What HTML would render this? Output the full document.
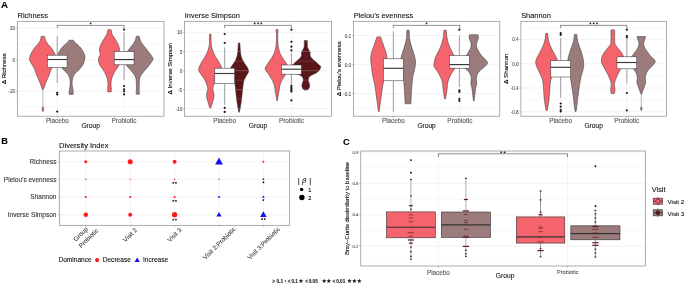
<!DOCTYPE html>
<html><head><meta charset="utf-8"><title>Figure</title>
<style>
html,body{margin:0;padding:0;background:#fff;}
body{width:685px;height:284px;overflow:hidden;font-family:"Liberation Sans", sans-serif;}
svg{display:block;will-change:transform;}
</style></head><body>
<svg width="685" height="284" viewBox="0 0 685 284" font-family='"Liberation Sans", sans-serif'>
<line x1="17.3" y1="44" x2="164" y2="44" stroke="#EBEBEB" stroke-width="0.35"/>
<line x1="17.3" y1="75.5" x2="164" y2="75.5" stroke="#EBEBEB" stroke-width="0.35"/>
<line x1="17.3" y1="107" x2="164" y2="107" stroke="#EBEBEB" stroke-width="0.35"/>
<line x1="17.3" y1="28.2" x2="164" y2="28.2" stroke="#EBEBEB" stroke-width="0.6"/>
<line x1="17.3" y1="59.75" x2="164" y2="59.75" stroke="#EBEBEB" stroke-width="0.6"/>
<line x1="17.3" y1="91.3" x2="164" y2="91.3" stroke="#EBEBEB" stroke-width="0.6"/>
<line x1="57.31" y1="21.3" x2="57.31" y2="116.2" stroke="#EBEBEB" stroke-width="0.6"/>
<line x1="123.99" y1="21.3" x2="123.99" y2="116.2" stroke="#EBEBEB" stroke-width="0.6"/>
<line x1="184.5" y1="23" x2="331.5" y2="23" stroke="#EBEBEB" stroke-width="0.35"/>
<line x1="184.5" y1="42" x2="331.5" y2="42" stroke="#EBEBEB" stroke-width="0.35"/>
<line x1="184.5" y1="61.1" x2="331.5" y2="61.1" stroke="#EBEBEB" stroke-width="0.35"/>
<line x1="184.5" y1="80.2" x2="331.5" y2="80.2" stroke="#EBEBEB" stroke-width="0.35"/>
<line x1="184.5" y1="99.1" x2="331.5" y2="99.1" stroke="#EBEBEB" stroke-width="0.35"/>
<line x1="184.5" y1="32.4" x2="331.5" y2="32.4" stroke="#EBEBEB" stroke-width="0.6"/>
<line x1="184.5" y1="51.5" x2="331.5" y2="51.5" stroke="#EBEBEB" stroke-width="0.6"/>
<line x1="184.5" y1="70.7" x2="331.5" y2="70.7" stroke="#EBEBEB" stroke-width="0.6"/>
<line x1="184.5" y1="89.7" x2="331.5" y2="89.7" stroke="#EBEBEB" stroke-width="0.6"/>
<line x1="184.5" y1="108.5" x2="331.5" y2="108.5" stroke="#EBEBEB" stroke-width="0.6"/>
<line x1="224.59" y1="21.3" x2="224.59" y2="116.2" stroke="#EBEBEB" stroke-width="0.6"/>
<line x1="291.41" y1="21.3" x2="291.41" y2="116.2" stroke="#EBEBEB" stroke-width="0.6"/>
<line x1="353.4" y1="50.1" x2="499.8" y2="50.1" stroke="#EBEBEB" stroke-width="0.35"/>
<line x1="353.4" y1="79" x2="499.8" y2="79" stroke="#EBEBEB" stroke-width="0.35"/>
<line x1="353.4" y1="108" x2="499.8" y2="108" stroke="#EBEBEB" stroke-width="0.35"/>
<line x1="353.4" y1="35.5" x2="499.8" y2="35.5" stroke="#EBEBEB" stroke-width="0.6"/>
<line x1="353.4" y1="64.7" x2="499.8" y2="64.7" stroke="#EBEBEB" stroke-width="0.6"/>
<line x1="353.4" y1="93.5" x2="499.8" y2="93.5" stroke="#EBEBEB" stroke-width="0.6"/>
<line x1="393.33" y1="21.3" x2="393.33" y2="116.2" stroke="#EBEBEB" stroke-width="0.6"/>
<line x1="459.87" y1="21.3" x2="459.87" y2="116.2" stroke="#EBEBEB" stroke-width="0.6"/>
<line x1="520.9" y1="27.3" x2="666.4" y2="27.3" stroke="#EBEBEB" stroke-width="0.35"/>
<line x1="520.9" y1="51.6" x2="666.4" y2="51.6" stroke="#EBEBEB" stroke-width="0.35"/>
<line x1="520.9" y1="75.9" x2="666.4" y2="75.9" stroke="#EBEBEB" stroke-width="0.35"/>
<line x1="520.9" y1="99.9" x2="666.4" y2="99.9" stroke="#EBEBEB" stroke-width="0.35"/>
<line x1="520.9" y1="39.4" x2="666.4" y2="39.4" stroke="#EBEBEB" stroke-width="0.6"/>
<line x1="520.9" y1="63.7" x2="666.4" y2="63.7" stroke="#EBEBEB" stroke-width="0.6"/>
<line x1="520.9" y1="88" x2="666.4" y2="88" stroke="#EBEBEB" stroke-width="0.6"/>
<line x1="520.9" y1="111.7" x2="666.4" y2="111.7" stroke="#EBEBEB" stroke-width="0.6"/>
<line x1="560.58" y1="21.3" x2="560.58" y2="116.2" stroke="#EBEBEB" stroke-width="0.6"/>
<line x1="626.72" y1="21.3" x2="626.72" y2="116.2" stroke="#EBEBEB" stroke-width="0.6"/>
<path d="M44.7 36.4 C44.73 36.75 44.79 37.9 44.9 38.5 C45.01 39.1 45.15 39.5 45.35 40 C45.55 40.5 45.62 40.75 46.1 41.5 C46.58 42.25 47.45 43.57 48.2 44.5 C48.95 45.43 49.78 46.1 50.6 47.1 C51.42 48.1 52.38 49.33 53.1 50.5 C53.82 51.67 54.37 52.8 54.9 54.1 C55.43 55.4 56.17 57.12 56.3 58.3 C56.43 59.48 56.05 60.27 55.7 61.2 C55.35 62.13 54.75 62.97 54.2 63.9 C53.65 64.83 52.92 65.85 52.4 66.8 C51.88 67.75 51.5 68.67 51.1 69.6 C50.7 70.53 50.33 71.47 50 72.4 C49.67 73.33 49.48 74.25 49.1 75.2 C48.72 76.15 48.1 77.17 47.7 78.1 C47.3 79.03 47.08 79.87 46.7 80.8 C46.32 81.73 45.83 82.57 45.4 83.7 C44.97 84.83 44.42 86.72 44.1 87.6 C43.78 88.48 43.67 88.6 43.5 89 C43.33 89.4 43.17 89.83 43.1 90 L42.7 90 C42.63 89.83 42.47 89.4 42.3 89 C42.13 88.6 42.02 88.48 41.7 87.6 C41.38 86.72 40.83 84.83 40.4 83.7 C39.97 82.57 39.48 81.73 39.1 80.8 C38.72 79.87 38.5 79.03 38.1 78.1 C37.7 77.17 37.08 76.15 36.7 75.2 C36.32 74.25 36.13 73.33 35.8 72.4 C35.47 71.47 35.1 70.53 34.7 69.6 C34.3 68.67 33.92 67.75 33.4 66.8 C32.88 65.85 32.15 64.83 31.6 63.9 C31.05 62.97 30.45 62.13 30.1 61.2 C29.75 60.27 29.37 59.48 29.5 58.3 C29.63 57.12 30.37 55.4 30.9 54.1 C31.43 52.8 31.98 51.67 32.7 50.5 C33.42 49.33 34.38 48.1 35.2 47.1 C36.02 46.1 36.85 45.43 37.6 44.5 C38.35 43.57 39.22 42.25 39.7 41.5 C40.17 40.75 40.25 40.5 40.45 40 C40.65 39.5 40.79 39.1 40.9 38.5 C41.01 37.9 41.07 36.75 41.1 36.4 Z" fill="#F5636D" stroke="#3a3a3a" stroke-width="0.55"/>
<path d="M73.3 40.2 C73.55 40.53 74.12 41.48 74.8 42.2 C75.48 42.92 76.3 43.42 77.4 44.5 C78.5 45.58 80.33 47.3 81.4 48.7 C82.47 50.1 83.22 51.58 83.8 52.9 C84.38 54.22 84.83 55.18 84.9 56.6 C84.97 58.02 84.6 59.9 84.2 61.4 C83.8 62.9 83.37 64.2 82.5 65.6 C81.63 67 80.32 68.4 79 69.8 C77.68 71.2 75.65 72.58 74.6 74 C73.55 75.42 73.1 77.05 72.7 78.3 C72.3 79.55 72.3 80.55 72.2 81.5 C72.1 82.45 72.03 83 72.1 84 C72.17 85 72.42 86.25 72.6 87.5 C72.78 88.75 73.08 90.42 73.2 91.5 C73.32 92.58 73.37 93.52 73.3 94 C73.23 94.48 72.88 94.33 72.8 94.4 L69.6 94.4 C69.52 94.33 69.17 94.48 69.1 94 C69.03 93.52 69.08 92.58 69.2 91.5 C69.32 90.42 69.62 88.75 69.8 87.5 C69.98 86.25 70.23 85 70.3 84 C70.37 83 70.3 82.45 70.2 81.5 C70.1 80.55 70.1 79.55 69.7 78.3 C69.3 77.05 68.85 75.42 67.8 74 C66.75 72.58 64.72 71.2 63.4 69.8 C62.08 68.4 60.77 67 59.9 65.6 C59.03 64.2 58.6 62.9 58.2 61.4 C57.8 59.9 57.43 58.02 57.5 56.6 C57.57 55.18 58.02 54.22 58.6 52.9 C59.18 51.58 59.93 50.1 61 48.7 C62.07 47.3 63.9 45.58 65 44.5 C66.1 43.42 66.92 42.92 67.6 42.2 C68.28 41.48 68.85 40.53 69.1 40.2 Z" fill="#9C7B7C" stroke="#3a3a3a" stroke-width="0.55"/>
<path d="M111.1 29.7 C111.3 30.52 111.58 32.97 112.3 34.6 C113.02 36.23 114.43 37.85 115.4 39.5 C116.37 41.15 117.4 42.85 118.1 44.5 C118.8 46.15 119.48 47.77 119.6 49.4 C119.72 51.03 118.63 52.65 118.8 54.3 C118.97 55.95 120.47 57.65 120.6 59.3 C120.73 60.95 120.3 62.57 119.6 64.2 C118.9 65.83 117.42 67.47 116.4 69.1 C115.38 70.73 114.3 72.35 113.5 74 C112.7 75.65 112.02 77.35 111.6 79 C111.18 80.65 111.05 82.27 111 83.9 C110.95 85.53 111.27 87.47 111.3 88.8 C111.33 90.13 111.22 91.38 111.2 91.9 L107.8 91.9 C107.78 91.38 107.67 90.13 107.7 88.8 C107.73 87.47 108.05 85.53 108 83.9 C107.95 82.27 107.82 80.65 107.4 79 C106.98 77.35 106.3 75.65 105.5 74 C104.7 72.35 103.62 70.73 102.6 69.1 C101.58 67.47 100.1 65.83 99.4 64.2 C98.7 62.57 98.27 60.95 98.4 59.3 C98.53 57.65 100.03 55.95 100.2 54.3 C100.37 52.65 99.28 51.03 99.4 49.4 C99.52 47.77 100.2 46.15 100.9 44.5 C101.6 42.85 102.63 41.15 103.6 39.5 C104.57 37.85 105.98 36.23 106.7 34.6 C107.42 32.97 107.7 30.52 107.9 29.7 Z" fill="#F5636D" stroke="#3a3a3a" stroke-width="0.55"/>
<path d="M139.2 36.2 C139.45 37.05 139.92 39.67 140.7 41.3 C141.48 42.93 142.75 44.45 143.9 46 C145.05 47.55 146.4 49.05 147.6 50.6 C148.8 52.15 150.2 53.95 151.1 55.3 C152 56.65 152.95 57.55 153 58.7 C153.05 59.85 152.27 60.83 151.4 62.2 C150.53 63.57 149.07 65.35 147.8 66.9 C146.53 68.45 145.03 69.95 143.8 71.5 C142.57 73.05 141.13 74.65 140.4 76.2 C139.67 77.75 139.6 78.87 139.4 80.8 C139.2 82.73 139.2 85.57 139.2 87.8 C139.2 90.03 139.37 93.13 139.4 94.2 L136.2 94.2 C136.23 93.13 136.4 90.03 136.4 87.8 C136.4 85.57 136.4 82.73 136.2 80.8 C136 78.87 135.93 77.75 135.2 76.2 C134.47 74.65 133.03 73.05 131.8 71.5 C130.57 69.95 129.07 68.45 127.8 66.9 C126.53 65.35 125.07 63.57 124.2 62.2 C123.33 60.83 122.55 59.85 122.6 58.7 C122.65 57.55 123.6 56.65 124.5 55.3 C125.4 53.95 126.8 52.15 128 50.6 C129.2 49.05 130.55 47.55 131.7 46 C132.85 44.45 134.12 42.93 134.9 41.3 C135.68 39.67 136.15 37.05 136.4 36.2 Z" fill="#9C7B7C" stroke="#3a3a3a" stroke-width="0.55"/>
<path d="M210.8 34 C210.86 34.25 211.12 35 211.15 35.5 C211.18 36 211.01 35.98 211 37 C210.99 38.02 211.03 40.12 211.1 41.6 C211.17 43.08 211.2 44.58 211.4 45.9 C211.6 47.22 211.93 48.33 212.3 49.5 C212.67 50.67 213.08 51.73 213.6 52.9 C214.12 54.07 214.73 55.32 215.4 56.5 C216.07 57.68 216.88 58.83 217.6 60 C218.32 61.17 219.08 62.33 219.7 63.5 C220.32 64.67 220.92 65.97 221.3 67 C221.68 68.03 222.07 68.78 222 69.7 C221.93 70.62 221.38 71.62 220.9 72.5 C220.42 73.38 219.7 74.15 219.1 75 C218.5 75.85 217.93 76.6 217.3 77.6 C216.67 78.6 215.88 79.82 215.3 81 C214.72 82.18 214.22 83.5 213.8 84.7 C213.38 85.9 212.87 87.07 212.8 88.2 C212.73 89.33 213.18 90.32 213.4 91.5 C213.62 92.68 214.08 94.05 214.1 95.3 C214.12 96.55 213.77 97.83 213.5 99 C213.23 100.17 212.82 101.22 212.5 102.3 C212.18 103.38 211.92 104.52 211.6 105.5 C211.28 106.48 210.77 107.75 210.6 108.2 L210 108.2 C209.83 107.75 209.32 106.48 209 105.5 C208.68 104.52 208.42 103.38 208.1 102.3 C207.78 101.22 207.37 100.17 207.1 99 C206.83 97.83 206.48 96.55 206.5 95.3 C206.52 94.05 206.98 92.68 207.2 91.5 C207.42 90.32 207.87 89.33 207.8 88.2 C207.73 87.07 207.22 85.9 206.8 84.7 C206.38 83.5 205.88 82.18 205.3 81 C204.72 79.82 203.93 78.6 203.3 77.6 C202.67 76.6 202.1 75.85 201.5 75 C200.9 74.15 200.18 73.38 199.7 72.5 C199.22 71.62 198.67 70.62 198.6 69.7 C198.53 68.78 198.92 68.03 199.3 67 C199.68 65.97 200.28 64.67 200.9 63.5 C201.52 62.33 202.28 61.17 203 60 C203.72 58.83 204.53 57.68 205.2 56.5 C205.87 55.32 206.48 54.07 207 52.9 C207.52 51.73 207.93 50.67 208.3 49.5 C208.67 48.33 209 47.22 209.2 45.9 C209.4 44.58 209.43 43.08 209.5 41.6 C209.57 40.12 209.61 38.02 209.6 37 C209.59 35.98 209.42 36 209.45 35.5 C209.48 35 209.74 34.25 209.8 34 Z" fill="#F5636D" stroke="#3a3a3a" stroke-width="0.55"/>
<path d="M239.9 43 C239.93 43.67 240.03 45.83 240.1 47 C240.17 48.17 240.2 48.85 240.3 50 C240.4 51.15 240.53 52.82 240.7 53.9 C240.87 54.98 241.05 55.62 241.3 56.5 C241.55 57.38 241.8 58.28 242.2 59.2 C242.6 60.12 243.17 61.12 243.7 62 C244.23 62.88 244.78 63.58 245.4 64.5 C246.02 65.42 246.87 66.48 247.4 67.5 C247.93 68.52 248.48 69.68 248.6 70.6 C248.72 71.52 248.4 72.27 248.1 73 C247.8 73.73 247.33 74.08 246.8 75 C246.27 75.92 245.43 77.33 244.9 78.5 C244.37 79.67 244 80.05 243.6 82 C243.2 83.95 242.82 87.47 242.5 90.2 C242.18 92.93 242 95.88 241.7 98.4 C241.4 100.92 241.08 103 240.7 105.3 C240.32 107.6 239.62 111.05 239.4 112.2 L238.8 112.2 C238.58 111.05 237.88 107.6 237.5 105.3 C237.12 103 236.8 100.92 236.5 98.4 C236.2 95.88 236.02 92.93 235.7 90.2 C235.38 87.47 235 83.95 234.6 82 C234.2 80.05 233.83 79.67 233.3 78.5 C232.77 77.33 231.93 75.92 231.4 75 C230.87 74.08 230.4 73.73 230.1 73 C229.8 72.27 229.48 71.52 229.6 70.6 C229.72 69.68 230.27 68.52 230.8 67.5 C231.33 66.48 232.18 65.42 232.8 64.5 C233.42 63.58 233.97 62.88 234.5 62 C235.03 61.12 235.6 60.12 236 59.2 C236.4 58.28 236.65 57.38 236.9 56.5 C237.15 55.62 237.33 54.98 237.5 53.9 C237.67 52.82 237.8 51.15 237.9 50 C238 48.85 238.03 48.17 238.1 47 C238.17 45.83 238.27 43.67 238.3 43 Z" fill="#5A1518" stroke="#3a3a3a" stroke-width="0.55"/>
<clipPath id="vc1"><path d="M239.9 43 C239.93 43.67 240.03 45.83 240.1 47 C240.17 48.17 240.2 48.85 240.3 50 C240.4 51.15 240.53 52.82 240.7 53.9 C240.87 54.98 241.05 55.62 241.3 56.5 C241.55 57.38 241.8 58.28 242.2 59.2 C242.6 60.12 243.17 61.12 243.7 62 C244.23 62.88 244.78 63.58 245.4 64.5 C246.02 65.42 246.87 66.48 247.4 67.5 C247.93 68.52 248.48 69.68 248.6 70.6 C248.72 71.52 248.4 72.27 248.1 73 C247.8 73.73 247.33 74.08 246.8 75 C246.27 75.92 245.43 77.33 244.9 78.5 C244.37 79.67 244 80.05 243.6 82 C243.2 83.95 242.82 87.47 242.5 90.2 C242.18 92.93 242 95.88 241.7 98.4 C241.4 100.92 241.08 103 240.7 105.3 C240.32 107.6 239.62 111.05 239.4 112.2 L238.8 112.2 C238.58 111.05 237.88 107.6 237.5 105.3 C237.12 103 236.8 100.92 236.5 98.4 C236.2 95.88 236.02 92.93 235.7 90.2 C235.38 87.47 235 83.95 234.6 82 C234.2 80.05 233.83 79.67 233.3 78.5 C232.77 77.33 231.93 75.92 231.4 75 C230.87 74.08 230.4 73.73 230.1 73 C229.8 72.27 229.48 71.52 229.6 70.6 C229.72 69.68 230.27 68.52 230.8 67.5 C231.33 66.48 232.18 65.42 232.8 64.5 C233.42 63.58 233.97 62.88 234.5 62 C235.03 61.12 235.6 60.12 236 59.2 C236.4 58.28 236.65 57.38 236.9 56.5 C237.15 55.62 237.33 54.98 237.5 53.9 C237.67 52.82 237.8 51.15 237.9 50 C238 48.85 238.03 48.17 238.1 47 C238.17 45.83 238.27 43.67 238.3 43 Z"/></clipPath>
<g clip-path="url(#vc1)"><line x1="184.5" y1="32.4" x2="331.5" y2="32.4" stroke="#EBEBEB" stroke-width="0.6" stroke-opacity="0.42"/><line x1="184.5" y1="51.5" x2="331.5" y2="51.5" stroke="#EBEBEB" stroke-width="0.6" stroke-opacity="0.42"/><line x1="184.5" y1="70.7" x2="331.5" y2="70.7" stroke="#EBEBEB" stroke-width="0.6" stroke-opacity="0.42"/><line x1="184.5" y1="89.7" x2="331.5" y2="89.7" stroke="#EBEBEB" stroke-width="0.6" stroke-opacity="0.42"/><line x1="184.5" y1="108.5" x2="331.5" y2="108.5" stroke="#EBEBEB" stroke-width="0.6" stroke-opacity="0.42"/><line x1="184.5" y1="23" x2="331.5" y2="23" stroke="#EBEBEB" stroke-width="0.4" stroke-opacity="0.38"/><line x1="184.5" y1="42" x2="331.5" y2="42" stroke="#EBEBEB" stroke-width="0.4" stroke-opacity="0.38"/><line x1="184.5" y1="61.1" x2="331.5" y2="61.1" stroke="#EBEBEB" stroke-width="0.4" stroke-opacity="0.38"/><line x1="184.5" y1="80.2" x2="331.5" y2="80.2" stroke="#EBEBEB" stroke-width="0.4" stroke-opacity="0.38"/><line x1="184.5" y1="99.1" x2="331.5" y2="99.1" stroke="#EBEBEB" stroke-width="0.4" stroke-opacity="0.38"/></g>
<path d="M277.6 29.3 C277.68 29.5 278.03 29.97 278.1 30.5 C278.17 31.03 278.07 31.75 278 32.5 C277.93 33.25 277.73 33.75 277.7 35 C277.67 36.25 277.73 38.27 277.8 40 C277.87 41.73 277.93 43.9 278.1 45.4 C278.27 46.9 278.53 47.82 278.8 49 C279.07 50.18 279.35 51.5 279.7 52.5 C280.05 53.5 280.45 54.13 280.9 55 C281.35 55.87 281.85 56.82 282.4 57.7 C282.95 58.58 283.6 59.42 284.2 60.3 C284.8 61.18 285.42 62.12 286 63 C286.58 63.88 287.2 64.72 287.7 65.6 C288.2 66.48 288.93 67.4 289 68.3 C289.07 69.2 288.65 70.03 288.1 71 C287.55 71.97 286.33 73.18 285.7 74.1 C285.07 75.02 284.87 75.58 284.3 76.5 C283.73 77.42 282.95 78.38 282.3 79.6 C281.65 80.82 280.88 82.4 280.4 83.8 C279.92 85.2 279.67 86.65 279.4 88 C279.13 89.35 279.02 90.48 278.8 91.9 C278.58 93.32 278.33 95.03 278.1 96.5 C277.87 97.97 277.52 100 277.4 100.7 L276.8 100.7 C276.68 100 276.33 97.97 276.1 96.5 C275.87 95.03 275.62 93.32 275.4 91.9 C275.18 90.48 275.07 89.35 274.8 88 C274.53 86.65 274.28 85.2 273.8 83.8 C273.32 82.4 272.55 80.82 271.9 79.6 C271.25 78.38 270.47 77.42 269.9 76.5 C269.33 75.58 269.13 75.02 268.5 74.1 C267.87 73.18 266.65 71.97 266.1 71 C265.55 70.03 265.13 69.2 265.2 68.3 C265.27 67.4 266 66.48 266.5 65.6 C267 64.72 267.62 63.88 268.2 63 C268.78 62.12 269.4 61.18 270 60.3 C270.6 59.42 271.25 58.58 271.8 57.7 C272.35 56.82 272.85 55.87 273.3 55 C273.75 54.13 274.15 53.5 274.5 52.5 C274.85 51.5 275.13 50.18 275.4 49 C275.67 47.82 275.93 46.9 276.1 45.4 C276.27 43.9 276.33 41.73 276.4 40 C276.47 38.27 276.53 36.25 276.5 35 C276.47 33.75 276.27 33.25 276.2 32.5 C276.13 31.75 276.03 31.03 276.1 30.5 C276.17 29.97 276.52 29.5 276.6 29.3 Z" fill="#F5636D" stroke="#3a3a3a" stroke-width="0.55"/>
<path d="M307.3 40.5 C307.32 41.45 307.22 44.73 307.4 46.2 C307.58 47.67 307.95 48.28 308.4 49.3 C308.85 50.32 309.82 51.28 310.1 52.3 C310.38 53.32 309.8 54.38 310.1 55.4 C310.4 56.42 311 57.38 311.9 58.4 C312.8 59.42 314.38 60.47 315.5 61.5 C316.62 62.53 317.73 63.75 318.6 64.6 C319.47 65.45 320.52 65.75 320.7 66.6 C320.88 67.45 320.38 68.68 319.7 69.7 C319.02 70.72 318.12 71.68 316.6 72.7 C315.08 73.72 311.97 74.77 310.6 75.8 C309.23 76.83 308.72 77.88 308.4 78.9 C308.08 79.92 308.48 80.88 308.7 81.9 C308.92 82.92 309.62 83.98 309.7 85 C309.78 86.02 309.62 87.15 309.2 88 C308.78 88.85 307.53 89.75 307.2 90.1 L304.4 90.1 C304.07 89.75 302.82 88.85 302.4 88 C301.98 87.15 301.82 86.02 301.9 85 C301.98 83.98 302.68 82.92 302.9 81.9 C303.12 80.88 303.52 79.92 303.2 78.9 C302.88 77.88 302.37 76.83 301 75.8 C299.63 74.77 296.52 73.72 295 72.7 C293.48 71.68 292.58 70.72 291.9 69.7 C291.22 68.68 290.72 67.45 290.9 66.6 C291.08 65.75 292.13 65.45 293 64.6 C293.87 63.75 294.98 62.53 296.1 61.5 C297.22 60.47 298.8 59.42 299.7 58.4 C300.6 57.38 301.2 56.42 301.5 55.4 C301.8 54.38 301.22 53.32 301.5 52.3 C301.78 51.28 302.75 50.32 303.2 49.3 C303.65 48.28 304.02 47.67 304.2 46.2 C304.38 44.73 304.28 41.45 304.3 40.5 Z" fill="#5A1518" stroke="#3a3a3a" stroke-width="0.55"/>
<clipPath id="vc2"><path d="M307.3 40.5 C307.32 41.45 307.22 44.73 307.4 46.2 C307.58 47.67 307.95 48.28 308.4 49.3 C308.85 50.32 309.82 51.28 310.1 52.3 C310.38 53.32 309.8 54.38 310.1 55.4 C310.4 56.42 311 57.38 311.9 58.4 C312.8 59.42 314.38 60.47 315.5 61.5 C316.62 62.53 317.73 63.75 318.6 64.6 C319.47 65.45 320.52 65.75 320.7 66.6 C320.88 67.45 320.38 68.68 319.7 69.7 C319.02 70.72 318.12 71.68 316.6 72.7 C315.08 73.72 311.97 74.77 310.6 75.8 C309.23 76.83 308.72 77.88 308.4 78.9 C308.08 79.92 308.48 80.88 308.7 81.9 C308.92 82.92 309.62 83.98 309.7 85 C309.78 86.02 309.62 87.15 309.2 88 C308.78 88.85 307.53 89.75 307.2 90.1 L304.4 90.1 C304.07 89.75 302.82 88.85 302.4 88 C301.98 87.15 301.82 86.02 301.9 85 C301.98 83.98 302.68 82.92 302.9 81.9 C303.12 80.88 303.52 79.92 303.2 78.9 C302.88 77.88 302.37 76.83 301 75.8 C299.63 74.77 296.52 73.72 295 72.7 C293.48 71.68 292.58 70.72 291.9 69.7 C291.22 68.68 290.72 67.45 290.9 66.6 C291.08 65.75 292.13 65.45 293 64.6 C293.87 63.75 294.98 62.53 296.1 61.5 C297.22 60.47 298.8 59.42 299.7 58.4 C300.6 57.38 301.2 56.42 301.5 55.4 C301.8 54.38 301.22 53.32 301.5 52.3 C301.78 51.28 302.75 50.32 303.2 49.3 C303.65 48.28 304.02 47.67 304.2 46.2 C304.38 44.73 304.28 41.45 304.3 40.5 Z"/></clipPath>
<g clip-path="url(#vc2)"><line x1="184.5" y1="32.4" x2="331.5" y2="32.4" stroke="#EBEBEB" stroke-width="0.6" stroke-opacity="0.42"/><line x1="184.5" y1="51.5" x2="331.5" y2="51.5" stroke="#EBEBEB" stroke-width="0.6" stroke-opacity="0.42"/><line x1="184.5" y1="70.7" x2="331.5" y2="70.7" stroke="#EBEBEB" stroke-width="0.6" stroke-opacity="0.42"/><line x1="184.5" y1="89.7" x2="331.5" y2="89.7" stroke="#EBEBEB" stroke-width="0.6" stroke-opacity="0.42"/><line x1="184.5" y1="108.5" x2="331.5" y2="108.5" stroke="#EBEBEB" stroke-width="0.6" stroke-opacity="0.42"/><line x1="184.5" y1="23" x2="331.5" y2="23" stroke="#EBEBEB" stroke-width="0.4" stroke-opacity="0.38"/><line x1="184.5" y1="42" x2="331.5" y2="42" stroke="#EBEBEB" stroke-width="0.4" stroke-opacity="0.38"/><line x1="184.5" y1="61.1" x2="331.5" y2="61.1" stroke="#EBEBEB" stroke-width="0.4" stroke-opacity="0.38"/><line x1="184.5" y1="80.2" x2="331.5" y2="80.2" stroke="#EBEBEB" stroke-width="0.4" stroke-opacity="0.38"/><line x1="184.5" y1="99.1" x2="331.5" y2="99.1" stroke="#EBEBEB" stroke-width="0.4" stroke-opacity="0.38"/></g>
<path d="M380.7 36.9 C380.98 37.77 381.78 40.27 382.4 42.1 C383.02 43.93 383.73 45.97 384.4 47.9 C385.07 49.83 385.98 51.77 386.4 53.7 C386.82 55.63 386.95 57.33 386.9 59.5 C386.85 61.67 386.42 64.05 386.1 66.7 C385.78 69.35 385.52 72.52 385 75.4 C384.48 78.28 383.55 81.12 383 84 C382.45 86.88 382.12 89.8 381.7 92.7 C381.28 95.6 380.92 98.27 380.5 101.4 C380.08 104.53 379.42 109.82 379.2 111.5 L378.4 111.5 C378.18 109.82 377.52 104.53 377.1 101.4 C376.68 98.27 376.32 95.6 375.9 92.7 C375.48 89.8 375.15 86.88 374.6 84 C374.05 81.12 373.12 78.28 372.6 75.4 C372.08 72.52 371.82 69.35 371.5 66.7 C371.18 64.05 370.75 61.67 370.7 59.5 C370.65 57.33 370.78 55.63 371.2 53.7 C371.62 51.77 372.53 49.83 373.2 47.9 C373.87 45.97 374.58 43.93 375.2 42.1 C375.82 40.27 376.62 37.77 376.9 36.9 Z" fill="#F5636D" stroke="#3a3a3a" stroke-width="0.55"/>
<path d="M409.2 30.3 C409.25 31.52 409.27 35.43 409.5 37.6 C409.73 39.77 410.13 41.38 410.6 43.3 C411.07 45.22 411.7 47.17 412.3 49.1 C412.9 51.03 413.65 52.73 414.2 54.9 C414.75 57.07 415.53 59.68 415.6 62.1 C415.67 64.52 415.07 66.98 414.6 69.4 C414.13 71.82 413.27 73.72 412.8 76.6 C412.33 79.48 412.07 83.33 411.8 86.7 C411.53 90.07 411.35 93.95 411.2 96.8 C411.05 99.65 410.95 102.63 410.9 103.8 L405.1 103.8 C405.05 102.63 404.95 99.65 404.8 96.8 C404.65 93.95 404.47 90.07 404.2 86.7 C403.93 83.33 403.67 79.48 403.2 76.6 C402.73 73.72 401.87 71.82 401.4 69.4 C400.93 66.98 400.33 64.52 400.4 62.1 C400.47 59.68 401.25 57.07 401.8 54.9 C402.35 52.73 403.1 51.03 403.7 49.1 C404.3 47.17 404.93 45.22 405.4 43.3 C405.87 41.38 406.27 39.77 406.5 37.6 C406.73 35.43 406.75 31.52 406.8 30.3 Z" fill="#9C7B7C" stroke="#3a3a3a" stroke-width="0.55"/>
<path d="M446.1 30.1 C446.15 30.58 446.28 31.92 446.4 33 C446.52 34.08 446.62 35.43 446.8 36.6 C446.98 37.77 447.23 38.83 447.5 40 C447.77 41.17 448.03 42.43 448.4 43.6 C448.77 44.77 449.2 45.82 449.7 47 C450.2 48.18 450.8 49.5 451.4 50.7 C452 51.9 452.72 53.03 453.3 54.2 C453.88 55.37 454.47 56.48 454.9 57.7 C455.33 58.92 455.67 60.32 455.9 61.5 C456.13 62.68 456.4 63.72 456.3 64.8 C456.2 65.88 455.87 66.92 455.3 68 C454.73 69.08 453.82 69.83 452.9 71.3 C451.98 72.77 450.65 74.97 449.8 76.8 C448.95 78.63 448.25 80.23 447.8 82.3 C447.35 84.37 447.47 86.45 447.1 89.2 C446.73 91.95 445.85 97.2 445.6 98.8 L444.6 98.8 C444.35 97.2 443.47 91.95 443.1 89.2 C442.73 86.45 442.85 84.37 442.4 82.3 C441.95 80.23 441.25 78.63 440.4 76.8 C439.55 74.97 438.22 72.77 437.3 71.3 C436.38 69.83 435.47 69.08 434.9 68 C434.33 66.92 434 65.88 433.9 64.8 C433.8 63.72 434.07 62.68 434.3 61.5 C434.53 60.32 434.87 58.92 435.3 57.7 C435.73 56.48 436.32 55.37 436.9 54.2 C437.48 53.03 438.2 51.9 438.8 50.7 C439.4 49.5 440 48.18 440.5 47 C441 45.82 441.43 44.77 441.8 43.6 C442.17 42.43 442.43 41.17 442.7 40 C442.97 38.83 443.22 37.77 443.4 36.6 C443.58 35.43 443.68 34.08 443.8 33 C443.92 31.92 444.05 30.58 444.1 30.1 Z" fill="#F5636D" stroke="#3a3a3a" stroke-width="0.55"/>
<path d="M477.9 34.7 C478 35.22 478.63 36.63 478.5 37.8 C478.37 38.97 477.45 40.4 477.1 41.7 C476.75 43 476.3 44.3 476.4 45.6 C476.5 46.9 476.97 47.98 477.7 49.5 C478.43 51.02 479.45 52.97 480.8 54.7 C482.15 56.43 484.67 58.42 485.8 59.9 C486.93 61.38 488.02 62.28 487.6 63.6 C487.18 64.92 484.72 66.5 483.3 67.8 C481.88 69.1 480.17 70.13 479.1 71.4 C478.03 72.67 477.37 74.07 476.9 75.4 C476.43 76.73 476.32 78.07 476.3 79.4 C476.28 80.73 476.88 82.07 476.8 83.4 C476.72 84.73 476.08 85.83 475.8 87.4 C475.52 88.97 475.32 91.02 475.1 92.8 C474.88 94.58 474.67 96.73 474.5 98.1 C474.33 99.47 474.17 100.52 474.1 101 L473.5 101 C473.43 100.52 473.27 99.47 473.1 98.1 C472.93 96.73 472.72 94.58 472.5 92.8 C472.28 91.02 472.08 88.97 471.8 87.4 C471.52 85.83 470.88 84.73 470.8 83.4 C470.72 82.07 471.32 80.73 471.3 79.4 C471.28 78.07 471.17 76.73 470.7 75.4 C470.23 74.07 469.57 72.67 468.5 71.4 C467.43 70.13 465.72 69.1 464.3 67.8 C462.88 66.5 460.42 64.92 460 63.6 C459.58 62.28 460.67 61.38 461.8 59.9 C462.93 58.42 465.45 56.43 466.8 54.7 C468.15 52.97 469.17 51.02 469.9 49.5 C470.63 47.98 471.1 46.9 471.2 45.6 C471.3 44.3 470.85 43 470.5 41.7 C470.15 40.4 469.23 38.97 469.1 37.8 C468.97 36.63 469.6 35.22 469.7 34.7 Z" fill="#9C7B7C" stroke="#3a3a3a" stroke-width="0.55"/>
<path d="M547.8 33.5 C547.82 33.92 547.83 35.15 547.9 36 C547.97 36.85 548.02 37.6 548.2 38.6 C548.38 39.6 548.67 40.83 549 42 C549.33 43.17 549.73 44.43 550.2 45.6 C550.67 46.77 551.22 47.82 551.8 49 C552.38 50.18 553.05 51.5 553.7 52.7 C554.35 53.9 555.12 55.03 555.7 56.2 C556.28 57.37 556.85 58.63 557.2 59.7 C557.55 60.77 557.85 61.55 557.8 62.6 C557.75 63.65 557.25 64.95 556.9 66 C556.55 67.05 556.38 67.4 555.7 68.9 C555.02 70.4 553.65 72.98 552.8 75 C551.95 77.02 551.12 78.23 550.6 81 C550.08 83.77 549.98 88.32 549.7 91.6 C549.42 94.88 549.3 97.57 548.9 100.7 C548.5 103.83 547.57 108.78 547.3 110.4 L546.1 110.4 C545.83 108.78 544.9 103.83 544.5 100.7 C544.1 97.57 543.98 94.88 543.7 91.6 C543.42 88.32 543.32 83.77 542.8 81 C542.28 78.23 541.45 77.02 540.6 75 C539.75 72.98 538.38 70.4 537.7 68.9 C537.02 67.4 536.85 67.05 536.5 66 C536.15 64.95 535.65 63.65 535.6 62.6 C535.55 61.55 535.85 60.77 536.2 59.7 C536.55 58.63 537.12 57.37 537.7 56.2 C538.28 55.03 539.05 53.9 539.7 52.7 C540.35 51.5 541.02 50.18 541.6 49 C542.18 47.82 542.73 46.77 543.2 45.6 C543.67 44.43 544.07 43.17 544.4 42 C544.73 40.83 545.02 39.6 545.2 38.6 C545.38 37.6 545.43 36.85 545.5 36 C545.57 35.15 545.58 33.92 545.6 33.5 Z" fill="#F5636D" stroke="#3a3a3a" stroke-width="0.55"/>
<path d="M576.8 34.4 C576.97 35.63 577.28 39.57 577.8 41.8 C578.32 44.03 579.22 45.82 579.9 47.8 C580.58 49.78 581.33 51.73 581.9 53.7 C582.47 55.67 583 57.63 583.3 59.6 C583.6 61.57 583.82 63.53 583.7 65.5 C583.58 67.47 583.07 69.43 582.6 71.4 C582.13 73.37 581.43 74.83 580.9 77.3 C580.37 79.77 579.87 83.23 579.4 86.2 C578.93 89.17 578.48 92.13 578.1 95.1 C577.72 98.07 577.43 101.28 577.1 104 C576.77 106.72 576.27 110.17 576.1 111.4 L575.1 111.4 C574.93 110.17 574.43 106.72 574.1 104 C573.77 101.28 573.48 98.07 573.1 95.1 C572.72 92.13 572.27 89.17 571.8 86.2 C571.33 83.23 570.83 79.77 570.3 77.3 C569.77 74.83 569.07 73.37 568.6 71.4 C568.13 69.43 567.62 67.47 567.5 65.5 C567.38 63.53 567.6 61.57 567.9 59.6 C568.2 57.63 568.73 55.67 569.3 53.7 C569.87 51.73 570.62 49.78 571.3 47.8 C571.98 45.82 572.88 44.03 573.4 41.8 C573.92 39.57 574.23 35.63 574.4 34.4 Z" fill="#9C7B7C" stroke="#3a3a3a" stroke-width="0.55"/>
<path d="M614.2 29.8 C614.27 30 614.52 30.37 614.6 31 C614.68 31.63 614.7 32.67 614.7 33.6 C614.7 34.53 614.62 35.53 614.6 36.6 C614.58 37.67 614.55 38.83 614.6 40 C614.65 41.17 614.7 42.68 614.9 43.6 C615.1 44.52 615.42 44.9 615.8 45.5 C616.18 46.1 616.67 46.55 617.2 47.2 C617.73 47.85 618.42 48.67 619 49.4 C619.58 50.13 620.13 50.78 620.7 51.6 C621.27 52.42 621.9 53.42 622.4 54.3 C622.9 55.18 623.4 55.73 623.7 56.9 C624 58.07 624.25 60.1 624.2 61.3 C624.15 62.5 623.98 62.8 623.4 64.1 C622.82 65.4 621.62 67.42 620.7 69.1 C619.78 70.78 618.73 72.5 617.9 74.2 C617.07 75.9 616.3 77.6 615.7 79.3 C615.1 81 614.42 82.7 614.3 84.4 C614.18 86.1 614.98 87.97 615 89.5 C615.02 91.03 614.5 92.92 614.4 93.6 L611.2 93.6 C611.1 92.92 610.58 91.03 610.6 89.5 C610.62 87.97 611.42 86.1 611.3 84.4 C611.18 82.7 610.5 81 609.9 79.3 C609.3 77.6 608.53 75.9 607.7 74.2 C606.87 72.5 605.82 70.78 604.9 69.1 C603.98 67.42 602.78 65.4 602.2 64.1 C601.62 62.8 601.45 62.5 601.4 61.3 C601.35 60.1 601.6 58.07 601.9 56.9 C602.2 55.73 602.7 55.18 603.2 54.3 C603.7 53.42 604.33 52.42 604.9 51.6 C605.47 50.78 606.02 50.13 606.6 49.4 C607.18 48.67 607.87 47.85 608.4 47.2 C608.93 46.55 609.42 46.1 609.8 45.5 C610.18 44.9 610.5 44.52 610.7 43.6 C610.9 42.68 610.95 41.17 611 40 C611.05 38.83 611.02 37.67 611 36.6 C610.98 35.53 610.9 34.53 610.9 33.6 C610.9 32.67 610.92 31.63 611 31 C611.08 30.37 611.33 30 611.4 29.8 Z" fill="#F5636D" stroke="#3a3a3a" stroke-width="0.55"/>
<path d="M645.6 36.6 C645.47 37.03 645.13 38.03 644.8 39.2 C644.47 40.37 643.6 42.15 643.6 43.6 C643.6 45.05 644.12 46.47 644.8 47.9 C645.48 49.33 646.67 50.75 647.7 52.2 C648.73 53.65 649.75 55.15 651 56.6 C652.25 58.05 654.88 59.47 655.2 60.9 C655.52 62.33 653.98 63.75 652.9 65.2 C651.82 66.65 649.83 68.15 648.7 69.6 C647.57 71.05 646.68 72.47 646.1 73.9 C645.52 75.33 645.27 76.75 645.2 78.2 C645.13 79.65 645.87 81.15 645.7 82.6 C645.53 84.05 644.7 85.47 644.2 86.9 C643.7 88.33 643.1 90.08 642.7 91.2 C642.3 92.32 642 93.03 641.8 93.6 C641.6 94.17 641.55 94.43 641.5 94.6 L641.1 94.6 C641.05 94.43 641 94.17 640.8 93.6 C640.6 93.03 640.3 92.32 639.9 91.2 C639.5 90.08 638.9 88.33 638.4 86.9 C637.9 85.47 637.07 84.05 636.9 82.6 C636.73 81.15 637.47 79.65 637.4 78.2 C637.33 76.75 637.08 75.33 636.5 73.9 C635.92 72.47 635.03 71.05 633.9 69.6 C632.77 68.15 630.78 66.65 629.7 65.2 C628.62 63.75 627.08 62.33 627.4 60.9 C627.72 59.47 630.35 58.05 631.6 56.6 C632.85 55.15 633.87 53.65 634.9 52.2 C635.93 50.75 637.12 49.33 637.8 47.9 C638.48 46.47 639 45.05 639 43.6 C639 42.15 638.13 40.37 637.8 39.2 C637.47 38.03 637.13 37.03 637 36.6 Z" fill="#9C7B7C" stroke="#3a3a3a" stroke-width="0.55"/>
<line x1="42.9" y1="90" x2="42.9" y2="106.5" stroke="#9a9a9a" stroke-width="0.7"/>
<path d="M42.9 106.5 C44 108 43.8 111.6 42.9 111.6 C42 111.6 41.8 108 42.9 106.5 Z" fill="#F5636D" stroke="#3a3a3a" stroke-width="0.5"/>
<line x1="641.3" y1="94.6" x2="641.3" y2="106.5" stroke="#9a9a9a" stroke-width="0.7"/>
<path d="M641.3 106.5 C642.4 108 642.2 110.5 641.3 110.5 C640.4 110.5 640.2 108 641.3 106.5 Z" fill="#9C7B7C" stroke="#3a3a3a" stroke-width="0.5"/>
<line x1="57.2" y1="36" x2="57.2" y2="55.2" stroke="#555" stroke-width="0.55"/>
<line x1="57.2" y1="67.4" x2="57.2" y2="83" stroke="#555" stroke-width="0.55"/>
<rect x="47.3" y="55.2" width="19.8" height="12.2" fill="#fff" stroke="#3a3a3a" stroke-width="0.55"/>
<line x1="47.3" y1="59.5" x2="67.1" y2="59.5" stroke="#3a3a3a" stroke-width="1.15"/>
<circle cx="57.2" cy="92.8" r="1.1" fill="#1a1a1a"/>
<circle cx="57.2" cy="94.4" r="1.1" fill="#1a1a1a"/>
<circle cx="57.2" cy="111.6" r="1.1" fill="#1a1a1a"/>
<line x1="124.1" y1="32.4" x2="124.1" y2="51.6" stroke="#555" stroke-width="0.55"/>
<line x1="124.1" y1="64.8" x2="124.1" y2="79.7" stroke="#555" stroke-width="0.55"/>
<rect x="114.2" y="51.6" width="19.8" height="13.2" fill="#fff" stroke="#3a3a3a" stroke-width="0.55"/>
<line x1="114.2" y1="59.6" x2="134" y2="59.6" stroke="#3a3a3a" stroke-width="1.15"/>
<circle cx="124.1" cy="29.6" r="1.1" fill="#1a1a1a"/>
<circle cx="124.1" cy="86" r="1.1" fill="#1a1a1a"/>
<circle cx="124.1" cy="89.4" r="1.1" fill="#1a1a1a"/>
<circle cx="124.1" cy="91.3" r="1.1" fill="#1a1a1a"/>
<circle cx="124.1" cy="94.4" r="1.1" fill="#1a1a1a"/>
<line x1="224.7" y1="47.5" x2="224.7" y2="68.2" stroke="#555" stroke-width="0.55"/>
<line x1="224.7" y1="83.5" x2="224.7" y2="104.7" stroke="#555" stroke-width="0.55"/>
<rect x="214.8" y="68.2" width="19.8" height="15.3" fill="#fff" stroke="#3a3a3a" stroke-width="0.55"/>
<line x1="214.8" y1="73.5" x2="234.6" y2="73.5" stroke="#3a3a3a" stroke-width="1.15"/>
<circle cx="224.7" cy="34" r="1.1" fill="#1a1a1a"/>
<circle cx="224.7" cy="43" r="1.1" fill="#1a1a1a"/>
<circle cx="224.7" cy="107.9" r="1.1" fill="#1a1a1a"/>
<circle cx="224.7" cy="111.9" r="1.1" fill="#1a1a1a"/>
<line x1="291.4" y1="53.2" x2="291.4" y2="65" stroke="#555" stroke-width="0.55"/>
<line x1="291.4" y1="74.2" x2="291.4" y2="84.5" stroke="#555" stroke-width="0.55"/>
<rect x="281.5" y="65" width="19.8" height="9.2" fill="#fff" stroke="#3a3a3a" stroke-width="0.55"/>
<line x1="281.5" y1="69.2" x2="301.3" y2="69.2" stroke="#3a3a3a" stroke-width="1.15"/>
<circle cx="291.4" cy="29.7" r="1.1" fill="#1a1a1a"/>
<circle cx="291.4" cy="41.8" r="1.1" fill="#1a1a1a"/>
<circle cx="291.4" cy="46.7" r="1.1" fill="#1a1a1a"/>
<circle cx="291.4" cy="50.4" r="1.1" fill="#1a1a1a"/>
<circle cx="291.4" cy="85.8" r="1.1" fill="#1a1a1a"/>
<circle cx="291.4" cy="87.3" r="1.1" fill="#1a1a1a"/>
<circle cx="291.4" cy="88.8" r="1.1" fill="#1a1a1a"/>
<circle cx="291.4" cy="90.3" r="1.1" fill="#1a1a1a"/>
<circle cx="291.4" cy="91.6" r="1.1" fill="#1a1a1a"/>
<circle cx="291.4" cy="100.4" r="1.1" fill="#1a1a1a"/>
<line x1="393.35" y1="31.4" x2="393.35" y2="58.8" stroke="#555" stroke-width="0.55"/>
<line x1="393.35" y1="80.8" x2="393.35" y2="111.8" stroke="#555" stroke-width="0.55"/>
<rect x="383.45" y="58.8" width="19.8" height="22" fill="#fff" stroke="#3a3a3a" stroke-width="0.55"/>
<line x1="383.45" y1="68.3" x2="403.25" y2="68.3" stroke="#3a3a3a" stroke-width="1.15"/>
<line x1="459.35" y1="35.4" x2="459.35" y2="55.5" stroke="#555" stroke-width="0.55"/>
<line x1="459.35" y1="68.2" x2="459.35" y2="87" stroke="#555" stroke-width="0.55"/>
<rect x="449.45" y="55.5" width="19.8" height="12.7" fill="#fff" stroke="#3a3a3a" stroke-width="0.55"/>
<line x1="449.45" y1="64.6" x2="469.25" y2="64.6" stroke="#3a3a3a" stroke-width="1.15"/>
<circle cx="459.35" cy="29.7" r="1.1" fill="#1a1a1a"/>
<circle cx="459.35" cy="90.3" r="1.1" fill="#1a1a1a"/>
<circle cx="459.35" cy="92" r="1.1" fill="#1a1a1a"/>
<circle cx="459.35" cy="98.8" r="1.1" fill="#1a1a1a"/>
<circle cx="459.35" cy="100.8" r="1.1" fill="#1a1a1a"/>
<line x1="560.7" y1="38.1" x2="560.7" y2="60.7" stroke="#555" stroke-width="0.55"/>
<line x1="560.7" y1="77" x2="560.7" y2="97.8" stroke="#555" stroke-width="0.55"/>
<rect x="550.8" y="60.7" width="19.8" height="16.3" fill="#fff" stroke="#3a3a3a" stroke-width="0.55"/>
<line x1="550.8" y1="67.3" x2="570.6" y2="67.3" stroke="#3a3a3a" stroke-width="1.15"/>
<circle cx="560.7" cy="33.2" r="1.1" fill="#1a1a1a"/>
<circle cx="560.7" cy="34.8" r="1.1" fill="#1a1a1a"/>
<circle cx="560.7" cy="103.5" r="1.1" fill="#1a1a1a"/>
<circle cx="560.7" cy="106.7" r="1.1" fill="#1a1a1a"/>
<circle cx="560.7" cy="109.8" r="1.1" fill="#1a1a1a"/>
<circle cx="560.7" cy="111.4" r="1.1" fill="#1a1a1a"/>
<line x1="626.85" y1="39.2" x2="626.85" y2="56.8" stroke="#555" stroke-width="0.55"/>
<line x1="626.85" y1="68.8" x2="626.85" y2="83.7" stroke="#555" stroke-width="0.55"/>
<rect x="616.95" y="56.8" width="19.8" height="12" fill="#fff" stroke="#3a3a3a" stroke-width="0.55"/>
<line x1="616.95" y1="62.5" x2="636.75" y2="62.5" stroke="#3a3a3a" stroke-width="1.15"/>
<circle cx="626.85" cy="29.7" r="1.1" fill="#1a1a1a"/>
<circle cx="626.85" cy="36" r="1.1" fill="#1a1a1a"/>
<circle cx="626.85" cy="37.4" r="1.1" fill="#1a1a1a"/>
<circle cx="626.85" cy="93" r="1.1" fill="#1a1a1a"/>
<circle cx="626.85" cy="110.3" r="1.1" fill="#1a1a1a"/>
<rect x="17.3" y="21.3" width="146.7" height="94.9" fill="none" stroke="#8A8A8A" stroke-width="0.7"/>
<line x1="15.7" y1="28.2" x2="17.3" y2="28.2" stroke="#888" stroke-width="0.5"/>
<text x="15" y="30.25" font-size="4.6" text-anchor="end" fill="#555555" font-weight="normal" stroke="#555555" stroke-width="0.1">20</text>
<line x1="15.7" y1="59.75" x2="17.3" y2="59.75" stroke="#888" stroke-width="0.5"/>
<text x="15" y="61.8" font-size="4.6" text-anchor="end" fill="#555555" font-weight="normal" stroke="#555555" stroke-width="0.1">0</text>
<line x1="15.7" y1="91.3" x2="17.3" y2="91.3" stroke="#888" stroke-width="0.5"/>
<text x="15" y="93.35" font-size="4.6" text-anchor="end" fill="#555555" font-weight="normal" stroke="#555555" stroke-width="0.1">-20</text>
<line x1="57.31" y1="116.2" x2="57.31" y2="117.7" stroke="#888" stroke-width="0.5"/>
<line x1="123.99" y1="116.2" x2="123.99" y2="117.7" stroke="#888" stroke-width="0.5"/>
<text x="57.31" y="122.9" font-size="6.3" text-anchor="middle" fill="#555555" font-weight="normal" stroke="#555555" stroke-width="0.1">Placebo</text>
<text x="123.99" y="122.9" font-size="6.45" text-anchor="middle" fill="#555555" font-weight="normal" stroke="#555555" stroke-width="0.1">Probiotic</text>
<text x="90.65" y="127.8" font-size="6.6" text-anchor="middle" fill="#111" font-weight="normal" stroke="#111" stroke-width="0.1">Group</text>
<text x="17.6" y="17.6" font-size="7.4" text-anchor="start" fill="#111" font-weight="normal" stroke="#111" stroke-width="0.1">Richness</text>
<text x="5.9" y="68.75" font-size="6.1" text-anchor="middle" fill="#000" font-weight="normal" stroke="#000" stroke-width="0.1" transform="rotate(-90 5.9 68.75)"><tspan font-weight="bold">&#916;</tspan> Richness</text>
<line x1="57.31" y1="25.4" x2="123.99" y2="25.4" stroke="#333" stroke-width="0.55"/>
<line x1="57.31" y1="25.4" x2="57.31" y2="28" stroke="#333" stroke-width="0.55"/>
<line x1="123.99" y1="25.4" x2="123.99" y2="28" stroke="#333" stroke-width="0.55"/>
<polygon points="90.65,22.05 91.05,22.85 91.93,22.98 91.29,23.61 91.44,24.49 90.65,24.07 89.86,24.49 90.01,23.61 89.37,22.98 90.25,22.85" fill="#222"/>
<rect x="184.5" y="21.3" width="147" height="94.9" fill="none" stroke="#8A8A8A" stroke-width="0.7"/>
<line x1="182.9" y1="32.4" x2="184.5" y2="32.4" stroke="#888" stroke-width="0.5"/>
<text x="182.2" y="34.45" font-size="4.6" text-anchor="end" fill="#555555" font-weight="normal" stroke="#555555" stroke-width="0.1">10</text>
<line x1="182.9" y1="51.5" x2="184.5" y2="51.5" stroke="#888" stroke-width="0.5"/>
<text x="182.2" y="53.55" font-size="4.6" text-anchor="end" fill="#555555" font-weight="normal" stroke="#555555" stroke-width="0.1">5</text>
<line x1="182.9" y1="70.7" x2="184.5" y2="70.7" stroke="#888" stroke-width="0.5"/>
<text x="182.2" y="72.75" font-size="4.6" text-anchor="end" fill="#555555" font-weight="normal" stroke="#555555" stroke-width="0.1">0</text>
<line x1="182.9" y1="89.7" x2="184.5" y2="89.7" stroke="#888" stroke-width="0.5"/>
<text x="182.2" y="91.75" font-size="4.6" text-anchor="end" fill="#555555" font-weight="normal" stroke="#555555" stroke-width="0.1">-5</text>
<line x1="182.9" y1="108.5" x2="184.5" y2="108.5" stroke="#888" stroke-width="0.5"/>
<text x="182.2" y="110.55" font-size="4.6" text-anchor="end" fill="#555555" font-weight="normal" stroke="#555555" stroke-width="0.1">-10</text>
<line x1="224.59" y1="116.2" x2="224.59" y2="117.7" stroke="#888" stroke-width="0.5"/>
<line x1="291.41" y1="116.2" x2="291.41" y2="117.7" stroke="#888" stroke-width="0.5"/>
<text x="224.59" y="122.9" font-size="6.3" text-anchor="middle" fill="#555555" font-weight="normal" stroke="#555555" stroke-width="0.1">Placebo</text>
<text x="291.41" y="122.9" font-size="6.45" text-anchor="middle" fill="#555555" font-weight="normal" stroke="#555555" stroke-width="0.1">Probiotic</text>
<text x="258" y="127.8" font-size="6.6" text-anchor="middle" fill="#111" font-weight="normal" stroke="#111" stroke-width="0.1">Group</text>
<text x="184.8" y="17.6" font-size="7.4" text-anchor="start" fill="#111" font-weight="normal" stroke="#111" stroke-width="0.1">Inverse Simpson</text>
<text x="171.7" y="68.75" font-size="6.1" text-anchor="middle" fill="#000" font-weight="normal" stroke="#000" stroke-width="0.1" transform="rotate(-90 171.7 68.75)"><tspan font-weight="bold">&#916;</tspan> Inverse Simpson</text>
<line x1="224.59" y1="25.4" x2="291.41" y2="25.4" stroke="#333" stroke-width="0.55"/>
<line x1="224.59" y1="25.4" x2="224.59" y2="28" stroke="#333" stroke-width="0.55"/>
<line x1="291.41" y1="25.4" x2="291.41" y2="28" stroke="#333" stroke-width="0.55"/>
<polygon points="254.7,22.05 255.1,22.85 255.98,22.98 255.34,23.61 255.49,24.49 254.7,24.07 253.91,24.49 254.06,23.61 253.42,22.98 254.3,22.85" fill="#222"/>
<polygon points="258,22.05 258.4,22.85 259.28,22.98 258.64,23.61 258.79,24.49 258,24.07 257.21,24.49 257.36,23.61 256.72,22.98 257.6,22.85" fill="#222"/>
<polygon points="261.3,22.05 261.7,22.85 262.58,22.98 261.94,23.61 262.09,24.49 261.3,24.07 260.51,24.49 260.66,23.61 260.02,22.98 260.9,22.85" fill="#222"/>
<rect x="353.4" y="21.3" width="146.4" height="94.9" fill="none" stroke="#8A8A8A" stroke-width="0.7"/>
<line x1="351.8" y1="35.5" x2="353.4" y2="35.5" stroke="#888" stroke-width="0.5"/>
<text x="351.1" y="37.55" font-size="4.6" text-anchor="end" fill="#555555" font-weight="normal" stroke="#555555" stroke-width="0.1">0.1</text>
<line x1="351.8" y1="64.7" x2="353.4" y2="64.7" stroke="#888" stroke-width="0.5"/>
<text x="351.1" y="66.75" font-size="4.6" text-anchor="end" fill="#555555" font-weight="normal" stroke="#555555" stroke-width="0.1">0.0</text>
<line x1="351.8" y1="93.5" x2="353.4" y2="93.5" stroke="#888" stroke-width="0.5"/>
<text x="351.1" y="95.55" font-size="4.6" text-anchor="end" fill="#555555" font-weight="normal" stroke="#555555" stroke-width="0.1">-0.1</text>
<line x1="393.33" y1="116.2" x2="393.33" y2="117.7" stroke="#888" stroke-width="0.5"/>
<line x1="459.87" y1="116.2" x2="459.87" y2="117.7" stroke="#888" stroke-width="0.5"/>
<text x="393.33" y="122.9" font-size="6.3" text-anchor="middle" fill="#555555" font-weight="normal" stroke="#555555" stroke-width="0.1">Placebo</text>
<text x="459.87" y="122.9" font-size="6.45" text-anchor="middle" fill="#555555" font-weight="normal" stroke="#555555" stroke-width="0.1">Probiotic</text>
<text x="426.6" y="127.8" font-size="6.6" text-anchor="middle" fill="#111" font-weight="normal" stroke="#111" stroke-width="0.1">Group</text>
<text x="353.7" y="17.6" font-size="7.4" text-anchor="start" fill="#111" font-weight="normal" stroke="#111" stroke-width="0.1">Pielou&#8217;s evenness</text>
<text x="340.8" y="68.75" font-size="6.1" text-anchor="middle" fill="#000" font-weight="normal" stroke="#000" stroke-width="0.1" transform="rotate(-90 340.8 68.75)"><tspan font-weight="bold">&#916;</tspan> Pielou&#8217;s evenness</text>
<line x1="393.33" y1="25.4" x2="459.87" y2="25.4" stroke="#333" stroke-width="0.55"/>
<line x1="393.33" y1="25.4" x2="393.33" y2="28" stroke="#333" stroke-width="0.55"/>
<line x1="459.87" y1="25.4" x2="459.87" y2="28" stroke="#333" stroke-width="0.55"/>
<polygon points="426.6,22.05 427,22.85 427.88,22.98 427.24,23.61 427.39,24.49 426.6,24.07 425.81,24.49 425.96,23.61 425.32,22.98 426.2,22.85" fill="#222"/>
<rect x="520.9" y="21.3" width="145.5" height="94.9" fill="none" stroke="#8A8A8A" stroke-width="0.7"/>
<line x1="519.3" y1="39.4" x2="520.9" y2="39.4" stroke="#888" stroke-width="0.5"/>
<text x="518.6" y="41.45" font-size="4.6" text-anchor="end" fill="#555555" font-weight="normal" stroke="#555555" stroke-width="0.1">0.4</text>
<line x1="519.3" y1="63.7" x2="520.9" y2="63.7" stroke="#888" stroke-width="0.5"/>
<text x="518.6" y="65.75" font-size="4.6" text-anchor="end" fill="#555555" font-weight="normal" stroke="#555555" stroke-width="0.1">0.0</text>
<line x1="519.3" y1="88" x2="520.9" y2="88" stroke="#888" stroke-width="0.5"/>
<text x="518.6" y="90.05" font-size="4.6" text-anchor="end" fill="#555555" font-weight="normal" stroke="#555555" stroke-width="0.1">-0.4</text>
<line x1="519.3" y1="111.7" x2="520.9" y2="111.7" stroke="#888" stroke-width="0.5"/>
<text x="518.6" y="113.75" font-size="4.6" text-anchor="end" fill="#555555" font-weight="normal" stroke="#555555" stroke-width="0.1">-0.8</text>
<line x1="560.58" y1="116.2" x2="560.58" y2="117.7" stroke="#888" stroke-width="0.5"/>
<line x1="626.72" y1="116.2" x2="626.72" y2="117.7" stroke="#888" stroke-width="0.5"/>
<text x="560.58" y="122.9" font-size="6.3" text-anchor="middle" fill="#555555" font-weight="normal" stroke="#555555" stroke-width="0.1">Placebo</text>
<text x="626.72" y="122.9" font-size="6.45" text-anchor="middle" fill="#555555" font-weight="normal" stroke="#555555" stroke-width="0.1">Probiotic</text>
<text x="593.65" y="127.8" font-size="6.6" text-anchor="middle" fill="#111" font-weight="normal" stroke="#111" stroke-width="0.1">Group</text>
<text x="521.2" y="17.6" font-size="7.4" text-anchor="start" fill="#111" font-weight="normal" stroke="#111" stroke-width="0.1">Shannon</text>
<text x="508.3" y="68.75" font-size="6.1" text-anchor="middle" fill="#000" font-weight="normal" stroke="#000" stroke-width="0.1" transform="rotate(-90 508.3 68.75)"><tspan font-weight="bold">&#916;</tspan> Shannon</text>
<line x1="560.58" y1="25.4" x2="626.72" y2="25.4" stroke="#333" stroke-width="0.55"/>
<line x1="560.58" y1="25.4" x2="560.58" y2="28" stroke="#333" stroke-width="0.55"/>
<line x1="626.72" y1="25.4" x2="626.72" y2="28" stroke="#333" stroke-width="0.55"/>
<polygon points="590.35,22.05 590.75,22.85 591.63,22.98 590.99,23.61 591.14,24.49 590.35,24.07 589.56,24.49 589.71,23.61 589.07,22.98 589.95,22.85" fill="#222"/>
<polygon points="593.65,22.05 594.05,22.85 594.93,22.98 594.29,23.61 594.44,24.49 593.65,24.07 592.86,24.49 593.01,23.61 592.37,22.98 593.25,22.85" fill="#222"/>
<polygon points="596.95,22.05 597.35,22.85 598.23,22.98 597.59,23.61 597.74,24.49 596.95,24.07 596.16,24.49 596.31,23.61 595.67,22.98 596.55,22.85" fill="#222"/>
<text x="1" y="8" font-size="9.7" text-anchor="start" fill="#000" font-weight="bold" stroke="#000" stroke-width="0.1">A</text>
<line x1="59.3" y1="161.8" x2="289.7" y2="161.8" stroke="#EBEBEB" stroke-width="0.6"/>
<line x1="59.3" y1="179.3" x2="289.7" y2="179.3" stroke="#EBEBEB" stroke-width="0.6"/>
<line x1="59.3" y1="197" x2="289.7" y2="197" stroke="#EBEBEB" stroke-width="0.6"/>
<line x1="59.3" y1="214.7" x2="289.7" y2="214.7" stroke="#EBEBEB" stroke-width="0.6"/>
<line x1="85.8" y1="151" x2="85.8" y2="225.3" stroke="#EBEBEB" stroke-width="0.6"/>
<line x1="130.2" y1="151" x2="130.2" y2="225.3" stroke="#EBEBEB" stroke-width="0.6"/>
<line x1="174.6" y1="151" x2="174.6" y2="225.3" stroke="#EBEBEB" stroke-width="0.6"/>
<line x1="219" y1="151" x2="219" y2="225.3" stroke="#EBEBEB" stroke-width="0.6"/>
<line x1="263.4" y1="151" x2="263.4" y2="225.3" stroke="#EBEBEB" stroke-width="0.6"/>
<circle cx="85.8" cy="161.8" r="1.5" fill="#FF1A1A"/>
<circle cx="85.8" cy="179.3" r="0.75" fill="#FF1A1A"/>
<circle cx="85.8" cy="197" r="1.1" fill="#FF1A1A"/>
<circle cx="85.8" cy="214.7" r="2.25" fill="#FF1A1A"/>
<circle cx="130.2" cy="161.8" r="2.5" fill="#FF1A1A"/>
<circle cx="130.2" cy="179.3" r="0.6" fill="#FF1A1A"/>
<circle cx="130.2" cy="197" r="1.1" fill="#FF1A1A"/>
<circle cx="130.2" cy="214.7" r="2" fill="#FF1A1A"/>
<circle cx="174.6" cy="161.8" r="1.95" fill="#FF1A1A"/>
<circle cx="174.6" cy="179.3" r="0.7" fill="#FF1A1A"/>
<polygon points="173.25,181.6 173.63,182.37 174.49,182.5 173.87,183.1 174.01,183.95 173.25,183.55 172.49,183.95 172.63,183.1 172.01,182.5 172.87,182.37" fill="#111"/>
<polygon points="175.95,181.6 176.33,182.37 177.19,182.5 176.57,183.1 176.71,183.95 175.95,183.55 175.19,183.95 175.33,183.1 174.71,182.5 175.57,182.37" fill="#111"/>
<circle cx="174.6" cy="197" r="1.1" fill="#FF1A1A"/>
<polygon points="173.25,199.6 173.63,200.37 174.49,200.5 173.87,201.1 174.01,201.95 173.25,201.55 172.49,201.95 172.63,201.1 172.01,200.5 172.87,200.37" fill="#111"/>
<polygon points="175.95,199.6 176.33,200.37 177.19,200.5 176.57,201.1 176.71,201.95 175.95,201.55 175.19,201.95 175.33,201.1 174.71,200.5 175.57,200.37" fill="#111"/>
<circle cx="174.6" cy="214.7" r="2.6" fill="#FF1A1A"/>
<polygon points="173.25,218.4 173.63,219.17 174.49,219.3 173.87,219.9 174.01,220.75 173.25,220.35 172.49,220.75 172.63,219.9 172.01,219.3 172.87,219.17" fill="#111"/>
<polygon points="175.95,218.4 176.33,219.17 177.19,219.3 176.57,219.9 176.71,220.75 175.95,220.35 175.19,220.75 175.33,219.9 174.71,219.3 175.57,219.17" fill="#111"/>
<path d="M219 157.59 L222.9 164.38 L215.1 164.38 Z" fill="#1010F0"/>
<path d="M219 178.44 L219.8 179.83 L218.2 179.83 Z" fill="#1010F0"/>
<path d="M219 195.6 L220.3 197.86 L217.7 197.86 Z" fill="#1010F0"/>
<path d="M219 211.9 L221.6 216.42 L216.4 216.42 Z" fill="#1010F0"/>
<circle cx="263.4" cy="161.8" r="1" fill="#FF1A1A"/>
<path d="M263.4 178.11 L264.5 180.03 L262.3 180.03 Z" fill="#1010F0"/>
<polygon points="263.4,181.1 263.78,181.87 264.64,182 264.02,182.6 264.16,183.45 263.4,183.05 262.64,183.45 262.78,182.6 262.16,182 263.02,181.87" fill="#111"/>
<path d="M263.4 195.6 L264.7 197.86 L262.1 197.86 Z" fill="#1010F0"/>
<polygon points="263.4,198.8 263.78,199.57 264.64,199.7 264.02,200.3 264.16,201.15 263.4,200.75 262.64,201.15 262.78,200.3 262.16,199.7 263.02,199.57" fill="#111"/>
<path d="M263.4 211.14 L266.7 216.88 L260.1 216.88 Z" fill="#1010F0"/>
<polygon points="262.05,217.8 262.43,218.57 263.29,218.7 262.67,219.3 262.81,220.15 262.05,219.75 261.29,220.15 261.43,219.3 260.81,218.7 261.67,218.57" fill="#111"/>
<polygon points="264.75,217.8 265.13,218.57 265.99,218.7 265.37,219.3 265.51,220.15 264.75,219.75 263.99,220.15 264.13,219.3 263.51,218.7 264.37,218.57" fill="#111"/>
<rect x="59.3" y="151" width="230.4" height="74.3" fill="none" stroke="#8A8A8A" stroke-width="0.7"/>
<line x1="57.7" y1="161.8" x2="59.3" y2="161.8" stroke="#888" stroke-width="0.5"/>
<text x="56.5" y="164.1" font-size="6.55" text-anchor="end" fill="#333" font-weight="normal" stroke="#333" stroke-width="0.1">Richness</text>
<line x1="57.7" y1="179.3" x2="59.3" y2="179.3" stroke="#888" stroke-width="0.5"/>
<text x="56.5" y="181.6" font-size="6.55" text-anchor="end" fill="#333" font-weight="normal" stroke="#333" stroke-width="0.1">Pielou&#8217;s evenness</text>
<line x1="57.7" y1="197" x2="59.3" y2="197" stroke="#888" stroke-width="0.5"/>
<text x="56.5" y="199.3" font-size="6.55" text-anchor="end" fill="#333" font-weight="normal" stroke="#333" stroke-width="0.1">Shannon</text>
<line x1="57.7" y1="214.7" x2="59.3" y2="214.7" stroke="#888" stroke-width="0.5"/>
<text x="56.5" y="217" font-size="6.55" text-anchor="end" fill="#333" font-weight="normal" stroke="#333" stroke-width="0.1">Inverse Simpson</text>
<line x1="85.8" y1="225.3" x2="85.8" y2="226.9" stroke="#888" stroke-width="0.5"/>
<line x1="130.2" y1="225.3" x2="130.2" y2="226.9" stroke="#888" stroke-width="0.5"/>
<line x1="174.6" y1="225.3" x2="174.6" y2="226.9" stroke="#888" stroke-width="0.5"/>
<line x1="219" y1="225.3" x2="219" y2="226.9" stroke="#888" stroke-width="0.5"/>
<line x1="263.4" y1="225.3" x2="263.4" y2="226.9" stroke="#888" stroke-width="0.5"/>
<text x="59" y="147.5" font-size="7.55" text-anchor="start" fill="#111" font-weight="normal" stroke="#111" stroke-width="0.1">Diversity Index</text>
<text x="1.2" y="144.4" font-size="9.3" text-anchor="start" fill="#000" font-weight="bold" stroke="#000" stroke-width="0.1">B</text>
<text x="76.1" y="241.8" font-size="6.3" text-anchor="start" fill="#444" font-weight="normal" stroke="#444" stroke-width="0.1" transform="rotate(-45 76.1 241.8)">Group</text>
<text x="81.3" y="248.3" font-size="6.3" text-anchor="start" fill="#444" font-weight="normal" stroke="#444" stroke-width="0.1" transform="rotate(-45 81.3 248.3)">Probiotic</text>
<text x="125.5" y="242.5" font-size="6.3" text-anchor="start" fill="#444" font-weight="normal" stroke="#444" stroke-width="0.1" transform="rotate(-45 125.5 242.5)">Visit 2</text>
<text x="169.9" y="242.5" font-size="6.3" text-anchor="start" fill="#444" font-weight="normal" stroke="#444" stroke-width="0.1" transform="rotate(-45 169.9 242.5)">Visit 3</text>
<text x="205.5" y="260.1" font-size="6.3" text-anchor="start" fill="#444" font-weight="normal" stroke="#444" stroke-width="0.1" transform="rotate(-45 205.5 260.1)">Visit 2:Probiotic</text>
<text x="249.9" y="260.1" font-size="6.3" text-anchor="start" fill="#444" font-weight="normal" stroke="#444" stroke-width="0.1" transform="rotate(-45 249.9 260.1)">Visit 3:Probiotic</text>
<text x="58.4" y="262.4" font-size="6.6" text-anchor="start" fill="#111" font-weight="normal" stroke="#111" stroke-width="0.1">Dominance</text>
<circle cx="97.1" cy="260.1" r="2.05" fill="#FF1A1A"/>
<text x="102.7" y="262.4" font-size="6.6" text-anchor="start" fill="#111" font-weight="normal" stroke="#111" stroke-width="0.1">Decrease</text>
<path d="M137.2 257.4 L139.8 261.92 L134.6 261.92 Z" fill="#1010F0"/>
<text x="142.9" y="262.4" font-size="6.6" text-anchor="start" fill="#111" font-weight="normal" stroke="#111" stroke-width="0.1">Increase</text>
<text x="298.7" y="182.6" font-size="7.6" text-anchor="middle" fill="#111" font-weight="normal" stroke="#111" stroke-width="0.1">|</text>
<text x="304.2" y="182.6" font-size="7.6" text-anchor="middle" fill="#111" font-weight="normal" stroke="#111" stroke-width="0.1" font-style="italic">&#946;</text>
<text x="310.3" y="182.6" font-size="7.6" text-anchor="middle" fill="#111" font-weight="normal" stroke="#111" stroke-width="0.1">|</text>
<circle cx="301.6" cy="189.6" r="1.75" fill="#000"/>
<text x="308.3" y="191.7" font-size="5.6" text-anchor="start" fill="#000" font-weight="normal" stroke="#000" stroke-width="0.1">1</text>
<circle cx="301.9" cy="197.5" r="2.7" fill="#000"/>
<text x="308.3" y="199.6" font-size="5.6" text-anchor="start" fill="#000" font-weight="normal" stroke="#000" stroke-width="0.1">2</text>
<text x="272.2" y="282.9" font-size="4.7" text-anchor="start" fill="#222" font-weight="bold" stroke="#222" stroke-width="0.1">&gt;</text>
<text x="276.5" y="282.9" font-size="4.7" text-anchor="start" fill="#222" font-weight="bold" stroke="#222" stroke-width="0.1">0.1</text>
<circle cx="285.4" cy="281.1" r="0.75" fill="#222"/>
<text x="287.7" y="282.9" font-size="4.7" text-anchor="start" fill="#222" font-weight="bold" stroke="#222" stroke-width="0.1">&lt;</text>
<text x="291.4" y="282.9" font-size="4.7" text-anchor="start" fill="#222" font-weight="bold" stroke="#222" stroke-width="0.1">0.1</text>
<polygon points="301,278.6 301.59,280.18 303.28,280.26 301.96,281.31 302.41,282.94 301,282.01 299.59,282.94 300.04,281.31 298.72,280.26 300.41,280.18" fill="#111"/>
<text x="305.3" y="282.9" font-size="4.7" text-anchor="start" fill="#222" font-weight="bold" stroke="#222" stroke-width="0.1">&lt;</text>
<text x="308.7" y="282.9" font-size="4.7" text-anchor="start" fill="#222" font-weight="bold" stroke="#222" stroke-width="0.1">0.05</text>
<polygon points="324.2,278.6 324.79,280.18 326.48,280.26 325.16,281.31 325.61,282.94 324.2,282.01 322.79,282.94 323.24,281.31 321.92,280.26 323.61,280.18" fill="#111"/>
<polygon points="328.8,278.6 329.39,280.18 331.08,280.26 329.76,281.31 330.21,282.94 328.8,282.01 327.39,282.94 327.84,281.31 326.52,280.26 328.21,280.18" fill="#111"/>
<text x="332.6" y="282.9" font-size="4.7" text-anchor="start" fill="#222" font-weight="bold" stroke="#222" stroke-width="0.1">&lt;</text>
<text x="336.2" y="282.9" font-size="4.7" text-anchor="start" fill="#222" font-weight="bold" stroke="#222" stroke-width="0.1">0.01</text>
<polygon points="349.5,278.6 350.09,280.18 351.78,280.26 350.46,281.31 350.91,282.94 349.5,282.01 348.09,282.94 348.54,281.31 347.22,280.26 348.91,280.18" fill="#111"/>
<polygon points="354.4,278.6 354.99,280.18 356.68,280.26 355.36,281.31 355.81,282.94 354.4,282.01 352.99,282.94 353.44,281.31 352.12,280.26 353.81,280.18" fill="#111"/>
<polygon points="359.3,278.6 359.89,280.18 361.58,280.26 360.26,281.31 360.71,282.94 359.3,282.01 357.89,282.94 358.34,281.31 357.02,280.26 358.71,280.18" fill="#111"/>
<line x1="360.8" y1="167.7" x2="645.3" y2="167.7" stroke="#EBEBEB" stroke-width="0.35"/>
<line x1="360.8" y1="199.1" x2="645.3" y2="199.1" stroke="#EBEBEB" stroke-width="0.35"/>
<line x1="360.8" y1="230.5" x2="645.3" y2="230.5" stroke="#EBEBEB" stroke-width="0.35"/>
<line x1="360.8" y1="261.9" x2="645.3" y2="261.9" stroke="#EBEBEB" stroke-width="0.35"/>
<line x1="360.8" y1="152" x2="645.3" y2="152" stroke="#EBEBEB" stroke-width="0.6"/>
<line x1="360.8" y1="183.4" x2="645.3" y2="183.4" stroke="#EBEBEB" stroke-width="0.6"/>
<line x1="360.8" y1="214.8" x2="645.3" y2="214.8" stroke="#EBEBEB" stroke-width="0.6"/>
<line x1="360.8" y1="246.2" x2="645.3" y2="246.2" stroke="#EBEBEB" stroke-width="0.6"/>
<line x1="438.4" y1="151" x2="438.4" y2="266" stroke="#EBEBEB" stroke-width="0.6"/>
<line x1="567.5" y1="151" x2="567.5" y2="266" stroke="#EBEBEB" stroke-width="0.6"/>
<line x1="410.9" y1="180" x2="410.9" y2="211.9" stroke="#BDBDBD" stroke-width="1.2"/>
<line x1="410.9" y1="237.8" x2="410.9" y2="259.6" stroke="#BDBDBD" stroke-width="1.2"/>
<rect x="386.45" y="211.9" width="48.9" height="25.9" fill="#F5636D" stroke="#333" stroke-width="0.6"/>
<line x1="386.45" y1="227.2" x2="435.35" y2="227.2" stroke="#333" stroke-width="1.1"/>
<circle cx="410.9" cy="160.1" r="0.95" fill="#2a0a0a"/>
<circle cx="410.9" cy="172.8" r="0.95" fill="#2a0a0a"/>
<rect x="410" y="179" width="1.8" height="1.2" fill="#5C1A22"/>
<rect x="410" y="195.3" width="1.8" height="1.2" fill="#5C1A22"/>
<rect x="408.9" y="205.1" width="4" height="1.2" fill="#5C1A22"/>
<rect x="410" y="208.7" width="1.8" height="1.2" fill="#5C1A22"/>
<rect x="408.9" y="214.3" width="4" height="1.2" fill="#5C1A22" opacity="0.55"/>
<rect x="408.9" y="217.4" width="4" height="1.2" fill="#5C1A22" opacity="0.55"/>
<rect x="408.9" y="221" width="4" height="1.2" fill="#5C1A22" opacity="0.55"/>
<rect x="410" y="226.4" width="1.8" height="1.2" fill="#5C1A22" opacity="0.55"/>
<rect x="407.8" y="232.1" width="6.2" height="1.2" fill="#5C1A22" opacity="0.55"/>
<rect x="408.9" y="235.7" width="4" height="1.2" fill="#5C1A22" opacity="0.55"/>
<rect x="407.8" y="239.4" width="6.2" height="1.2" fill="#5C1A22"/>
<rect x="408.9" y="242.5" width="4" height="1.2" fill="#5C1A22"/>
<rect x="410" y="246.5" width="1.8" height="1.2" fill="#5C1A22"/>
<rect x="410" y="251.1" width="1.8" height="1.2" fill="#5C1A22"/>
<rect x="410" y="255.7" width="1.8" height="1.2" fill="#5C1A22"/>
<rect x="410" y="258.7" width="1.8" height="1.2" fill="#5C1A22"/>
<line x1="465.85" y1="178.4" x2="465.85" y2="212" stroke="#BDBDBD" stroke-width="1.2"/>
<line x1="465.85" y1="237.4" x2="465.85" y2="256.4" stroke="#BDBDBD" stroke-width="1.2"/>
<rect x="441.3" y="212" width="49.1" height="25.4" fill="#9C7B7C" stroke="#333" stroke-width="0.6"/>
<line x1="441.3" y1="224.9" x2="490.4" y2="224.9" stroke="#333" stroke-width="1.1"/>
<rect x="464.95" y="177.8" width="1.8" height="1.2" fill="#5C1A22"/>
<rect x="463.85" y="198.9" width="4" height="1.2" fill="#5C1A22"/>
<rect x="462.75" y="210.3" width="6.2" height="1.2" fill="#5C1A22"/>
<rect x="463.85" y="214" width="4" height="1.2" fill="#5C1A22" opacity="0.55"/>
<rect x="463.85" y="219.7" width="4" height="1.2" fill="#5C1A22" opacity="0.55"/>
<rect x="463.85" y="222" width="4" height="1.2" fill="#5C1A22" opacity="0.55"/>
<rect x="463.85" y="228.7" width="4" height="1.2" fill="#5C1A22" opacity="0.55"/>
<rect x="463.85" y="235.4" width="4" height="1.2" fill="#5C1A22" opacity="0.55"/>
<rect x="462.75" y="236.6" width="6.2" height="1.2" fill="#5C1A22"/>
<rect x="462.75" y="245.8" width="6.2" height="1.2" fill="#5C1A22"/>
<rect x="464.95" y="249.8" width="1.8" height="1.2" fill="#5C1A22"/>
<rect x="464.95" y="253.2" width="1.8" height="1.2" fill="#5C1A22"/>
<rect x="464.95" y="255.8" width="1.8" height="1.2" fill="#5C1A22"/>
<line x1="540.55" y1="191" x2="540.55" y2="216.9" stroke="#6a6a6a" stroke-width="0.7"/>
<line x1="540.55" y1="243.1" x2="540.55" y2="256.8" stroke="#6a6a6a" stroke-width="0.7"/>
<rect x="516.3" y="216.9" width="48.5" height="26.2" fill="#F5636D" stroke="#333" stroke-width="0.6"/>
<line x1="516.3" y1="236.9" x2="564.8" y2="236.9" stroke="#333" stroke-width="1.1"/>
<rect x="539.65" y="190.4" width="1.8" height="1.2" fill="#5C1A22"/>
<rect x="539.65" y="199.3" width="1.8" height="1.2" fill="#5C1A22"/>
<rect x="539.65" y="211.5" width="1.8" height="1.2" fill="#5C1A22"/>
<rect x="538.55" y="214.2" width="4" height="1.2" fill="#5C1A22"/>
<rect x="538.55" y="226.4" width="4" height="1.2" fill="#5C1A22" opacity="0.55"/>
<rect x="538.55" y="227.8" width="4" height="1.2" fill="#5C1A22" opacity="0.55"/>
<rect x="538.55" y="231" width="4" height="1.2" fill="#5C1A22" opacity="0.55"/>
<rect x="539.65" y="237.2" width="1.8" height="1.2" fill="#5C1A22" opacity="0.55"/>
<rect x="537.45" y="241.3" width="6.2" height="1.2" fill="#5C1A22" opacity="0.55"/>
<rect x="539.65" y="248.1" width="1.8" height="1.2" fill="#5C1A22"/>
<rect x="537.45" y="250" width="6.2" height="1.2" fill="#5C1A22"/>
<rect x="539.65" y="256.2" width="1.8" height="1.2" fill="#5C1A22"/>
<line x1="595.4" y1="210.4" x2="595.4" y2="225.8" stroke="#6a6a6a" stroke-width="0.7"/>
<line x1="595.4" y1="239.8" x2="595.4" y2="257.1" stroke="#6a6a6a" stroke-width="0.7"/>
<rect x="570.8" y="225.8" width="49.2" height="14" fill="#9C7B7C" stroke="#333" stroke-width="0.6"/>
<line x1="570.8" y1="233.6" x2="620" y2="233.6" stroke="#333" stroke-width="1.1"/>
<circle cx="595.4" cy="166.3" r="0.95" fill="#2a0a0a"/>
<circle cx="595.4" cy="206" r="0.95" fill="#2a0a0a"/>
<rect x="594.5" y="209.8" width="1.8" height="1.2" fill="#5C1A22"/>
<rect x="594.5" y="213.4" width="1.8" height="1.2" fill="#5C1A22"/>
<rect x="594.5" y="217.4" width="1.8" height="1.2" fill="#5C1A22"/>
<rect x="594.5" y="221.4" width="1.8" height="1.2" fill="#5C1A22"/>
<rect x="592.3" y="225.9" width="6.2" height="1.2" fill="#5C1A22"/>
<rect x="592.3" y="228.8" width="6.2" height="1.2" fill="#5C1A22" opacity="0.55"/>
<rect x="592.3" y="232.4" width="6.2" height="1.2" fill="#5C1A22" opacity="0.55"/>
<rect x="592.3" y="236.7" width="6.2" height="1.2" fill="#5C1A22" opacity="0.55"/>
<rect x="592.3" y="242.1" width="6.2" height="1.2" fill="#5C1A22"/>
<rect x="592.3" y="244.7" width="6.2" height="1.2" fill="#5C1A22"/>
<rect x="594.5" y="248.6" width="1.8" height="1.2" fill="#5C1A22"/>
<rect x="594.5" y="252.4" width="1.8" height="1.2" fill="#5C1A22"/>
<rect x="594.5" y="256.5" width="1.8" height="1.2" fill="#5C1A22"/>
<rect x="360.8" y="151" width="284.5" height="115" fill="none" stroke="#8A8A8A" stroke-width="0.7"/>
<line x1="359.2" y1="152" x2="360.8" y2="152" stroke="#888" stroke-width="0.5"/>
<text x="358.5" y="153.6" font-size="4.4" text-anchor="end" fill="#555555" font-weight="normal" stroke="#555555" stroke-width="0.1">0.8</text>
<line x1="359.2" y1="183.4" x2="360.8" y2="183.4" stroke="#888" stroke-width="0.5"/>
<text x="358.5" y="185" font-size="4.4" text-anchor="end" fill="#555555" font-weight="normal" stroke="#555555" stroke-width="0.1">0.6</text>
<line x1="359.2" y1="214.8" x2="360.8" y2="214.8" stroke="#888" stroke-width="0.5"/>
<text x="358.5" y="216.4" font-size="4.4" text-anchor="end" fill="#555555" font-weight="normal" stroke="#555555" stroke-width="0.1">0.4</text>
<line x1="359.2" y1="246.2" x2="360.8" y2="246.2" stroke="#888" stroke-width="0.5"/>
<text x="358.5" y="247.8" font-size="4.4" text-anchor="end" fill="#555555" font-weight="normal" stroke="#555555" stroke-width="0.1">0.2</text>
<line x1="438.4" y1="266" x2="438.4" y2="267.6" stroke="#888" stroke-width="0.5"/>
<line x1="567.5" y1="266" x2="567.5" y2="267.6" stroke="#888" stroke-width="0.5"/>
<text x="438.4" y="274.9" font-size="6.3" text-anchor="middle" fill="#555555" font-weight="normal" stroke="#555555" stroke-width="0.1">Placebo</text>
<text x="567.8" y="273.6" font-size="5.5" text-anchor="middle" fill="#555555" font-weight="normal" stroke="#555555" stroke-width="0.1">Probiotic</text>
<text x="505.1" y="278" font-size="6.7" text-anchor="middle" fill="#111" font-weight="normal" stroke="#111" stroke-width="0.1">Group</text>
<text x="349.3" y="208.5" font-size="5.9" text-anchor="middle" fill="#111" font-weight="normal" stroke="#111" stroke-width="0.1" transform="rotate(-90 349.3 208.5)">Bray&#8722;Curtis dissimilarity to baseline</text>
<line x1="438.4" y1="153.8" x2="567.5" y2="153.8" stroke="#333" stroke-width="0.55"/>
<line x1="438.4" y1="153.8" x2="438.4" y2="157" stroke="#333" stroke-width="0.55"/>
<line x1="567.5" y1="153.8" x2="567.5" y2="157" stroke="#333" stroke-width="0.55"/>
<polygon points="501.3,151.05 501.7,151.85 502.58,151.98 501.94,152.61 502.09,153.49 501.3,153.08 500.51,153.49 500.66,152.61 500.02,151.98 500.9,151.85" fill="#222"/>
<polygon points="504.6,151.05 505,151.85 505.88,151.98 505.24,152.61 505.39,153.49 504.6,153.08 503.81,153.49 503.96,152.61 503.32,151.98 504.2,151.85" fill="#222"/>
<text x="343.1" y="144.8" font-size="9.3" text-anchor="start" fill="#000" font-weight="bold" stroke="#000" stroke-width="0.1">C</text>
<text x="651.8" y="191.6" font-size="7.3" text-anchor="start" fill="#111" font-weight="normal" stroke="#111" stroke-width="0.1">Visit</text>
<rect x="653.2" y="198.15" width="9.4" height="6.1" fill="#F5636D" stroke="#333" stroke-width="0.6"/>
<line x1="657.9" y1="196.8" x2="657.9" y2="205.6" stroke="#333" stroke-width="0.5"/>
<line x1="653.2" y1="201.2" x2="662.6" y2="201.2" stroke="#333" stroke-width="0.8"/>
<circle cx="657.9" cy="201.2" r="2.0" fill="#FF6B76" stroke="#2a2a2a" stroke-width="0.55"/>
<rect x="653.2" y="209.75" width="9.4" height="6.1" fill="#9C7B7C" stroke="#333" stroke-width="0.6"/>
<line x1="657.9" y1="208.4" x2="657.9" y2="217.2" stroke="#333" stroke-width="0.5"/>
<line x1="653.2" y1="212.8" x2="662.6" y2="212.8" stroke="#333" stroke-width="0.8"/>
<circle cx="657.9" cy="212.8" r="2.0" fill="#6A1018" stroke="#2a2a2a" stroke-width="0.55"/>
<text x="667.5" y="204.2" font-size="6.2" text-anchor="start" fill="#111" font-weight="normal" stroke="#111" stroke-width="0.1">Visit 2</text>
<text x="667.5" y="215.8" font-size="6.2" text-anchor="start" fill="#111" font-weight="normal" stroke="#111" stroke-width="0.1">Visit 3</text>
</svg>
</body></html>
